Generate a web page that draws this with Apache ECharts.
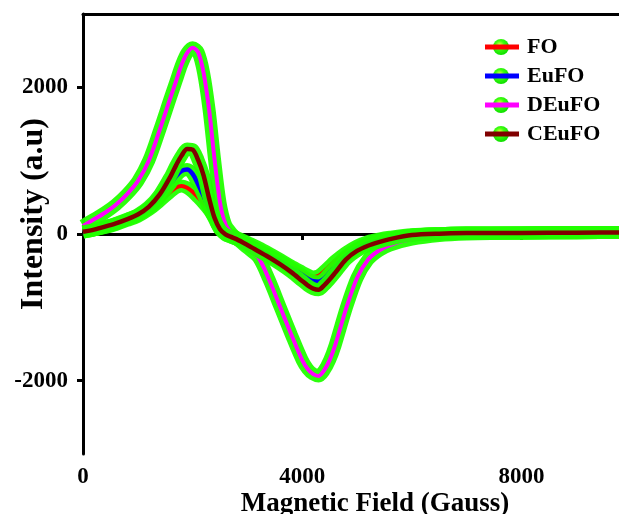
<!DOCTYPE html>
<html>
<head>
    <meta charset="utf-8">
    <title>EPR</title>
    <script src="https://cdn.jsdelivr.net/npm/echarts@6/dist/echarts.min.js"></script>
    <style>
        html, body { margin: 0; padding: 0; background: #fff; }
        #box { width: 619px; height: 514px; }
    </style>
</head>
<body>
    <div id="box"></div>
    <script>
        // magnetic field (Gauss)
        var field = [0, 200, 400, 600, 800, 1000, 1200, 1400, 1600,
                     1700, 1800, 1900, 2000, 2100, 2200, 2300, 2400, 2500, 2600, 2700, 2800,
                     3000, 3200, 3400, 3600, 3800, 4000, 4100, 4200, 4300, 4400, 4500, 4600, 4800, 5000, 5200, 5400, 5600,
                     6000, 6500, 7000, 8000, 9000, 10000];
        var fo    = [25, 55, 90, 130, 185, 240, 330, 450, 580,
                     635, 655, 630, 575, 500, 420, 330, 220, 110, 30, -10, -45,
                     -115, -185, -265, -350, -440, -520, -560, -585, -570, -510, -440, -370, -255, -165, -105, -70, -45,
                     -10, 5, 12, 15, 18, 20];
        var eufo  = [25, 55, 95, 140, 195, 255, 350, 500, 690,
                     790, 860, 880, 820, 680, 520, 350, 200, 60, -10, -40, -70,
                     -140, -215, -295, -375, -465, -560, -610, -645, -650, -610, -530, -450, -300, -200, -130, -90, -60,
                     -15, 5, 12, 15, 18, 20];
        var deufo = [110, 200, 290, 400, 540, 720, 1000, 1420, 1870,
                     2090, 2310, 2470, 2540, 2480, 2200, 1700, 1020, 430, 130, 20, -60,
                     -190, -320, -630, -1000, -1370, -1720, -1840, -1910, -1935, -1860, -1720, -1520, -1020, -600, -350, -225, -150,
                     -70, -20, 0, 15, 20, 20];
        var ceufo = [30, 60, 100, 145, 200, 265, 370, 540, 790,
                     940, 1070, 1160, 1150, 1010, 800, 490, 220, 65, -5, -40, -70,
                     -150, -235, -320, -415, -520, -640, -700, -745, -760, -700, -620, -530, -345, -230, -160, -110, -70,
                     -15, 5, 12, 15, 18, 20];

        var names  = ['FO', 'EuFO', 'DEuFO', 'CEuFO'];
        var values = [fo, eufo, deufo, ceufo];
        var colors = ['#ff0000', '#0000ff', '#ff00ff', '#800000'];
        var widths = [4, 4.5, 4, 4.5];
        var yTicks = [-2000, 0, 2000];
        var xTicks = [0, 4000, 8000];

        var glow = '#22ff00';
        var ball = new echarts.graphic.RadialGradient(0.42, 0.38, 0.6, [
            {offset: 0, color: '#f4ff40'},
            {offset: 0.45, color: '#3cff10'},
            {offset: 1, color: '#10e000'}
        ]);
        var font = 'Liberation Serif';

        function pairs(arr) {
            return field.map(function (x, i) { return [x, arr[i]]; });
        }
        function plain(v) { return String(v); }

        var series = [];
        names.forEach(function (n, k) {
            series.push({
                name: n + ' glow',
                type: 'line',
                data: pairs(values[k]),
                smooth: 0.3,
                showSymbol: false,
                symbol: 'circle',
                itemStyle: {color: ball},
                lineStyle: {color: glow, width: 13, opacity: 0.95},
                silent: true
            });
            series.push({
                name: n,
                type: 'line',
                data: pairs(values[k]),
                smooth: 0.3,
                showSymbol: false,
                itemStyle: {color: colors[k]},
                lineStyle: {color: colors[k], width: widths[k]}
            });
        });

        var myChart = echarts.init(document.getElementById('box'));
        var option = {
            animation: false,
            backgroundColor: '#fff',
            grid: {left: 83, top: 14, right: -12, bottom: 60, containLabel: false, outerBoundsMode: 'none'},
            legend: [{
                orient: 'vertical',
                left: 488, top: 31,
                icon: 'circle',
                itemWidth: 16, itemHeight: 16,
                itemGap: 7,
                selectedMode: false,
                z: 3,
                data: names.map(function (n) { return n + ' glow'; }),
                textStyle: {color: 'transparent', fontFamily: font, fontWeight: 'bold', fontSize: 22, lineHeight: 22}
            }, {
                orient: 'vertical',
                left: 480, top: 31,
                icon: 'rect',
                itemWidth: 34, itemHeight: 5,
                itemGap: 7,
                selectedMode: false,
                z: 4,
                data: names,
                textStyle: {color: '#000', fontFamily: font, fontWeight: 'bold', fontSize: 22, lineHeight: 22, padding: [0, 0, 0, 3]}
            }],
            xAxis: [{
                type: 'value',
                min: 0, max: 10000,
                name: 'Magnetic Field (Gauss)',
                nameLocation: 'middle',
                nameGap: 37,
                nameMoveOverlap: false,
                nameTextStyle: {color: '#000', fontFamily: font, fontWeight: 'bold', fontSize: 27, padding: [0, 0, 0, 36]},
                axisLine: {lineStyle: {color: '#000', width: 3}},
                axisTick: {customValues: xTicks, length: 6, lineStyle: {color: '#000', width: 3}},
                axisLabel: {customValues: xTicks, formatter: plain, margin: 12, color: '#000', fontFamily: font, fontWeight: 'bold', fontSize: 23},
                splitLine: {show: false}
            }, {
                type: 'value',
                position: 'top',
                min: 0, max: 10000,
                axisLine: {show: true, lineStyle: {color: '#000', width: 3}},
                axisTick: {show: false},
                axisLabel: {show: false},
                splitLine: {show: false}
            }],
            yAxis: {
                type: 'value',
                min: -3000, max: 3000,
                name: 'Intensity (a.u)',
                nameLocation: 'middle',
                nameGap: 33,
                nameMoveOverlap: false,
                nameTextStyle: {color: '#000', fontFamily: font, fontWeight: 'bold', fontSize: 32, padding: [0, 0, 0, 40]},
                axisLine: {show: true, lineStyle: {color: '#000', width: 3}},
                axisTick: {show: true, customValues: yTicks, length: 6, lineStyle: {color: '#000', width: 3}},
                axisLabel: {customValues: yTicks, formatter: plain, margin: 15, color: '#000', fontFamily: font, fontWeight: 'bold', fontSize: 23},
                splitLine: {show: false}
            },
            series: series
        };
        myChart.setOption(option);
    </script>
</body>
</html>
